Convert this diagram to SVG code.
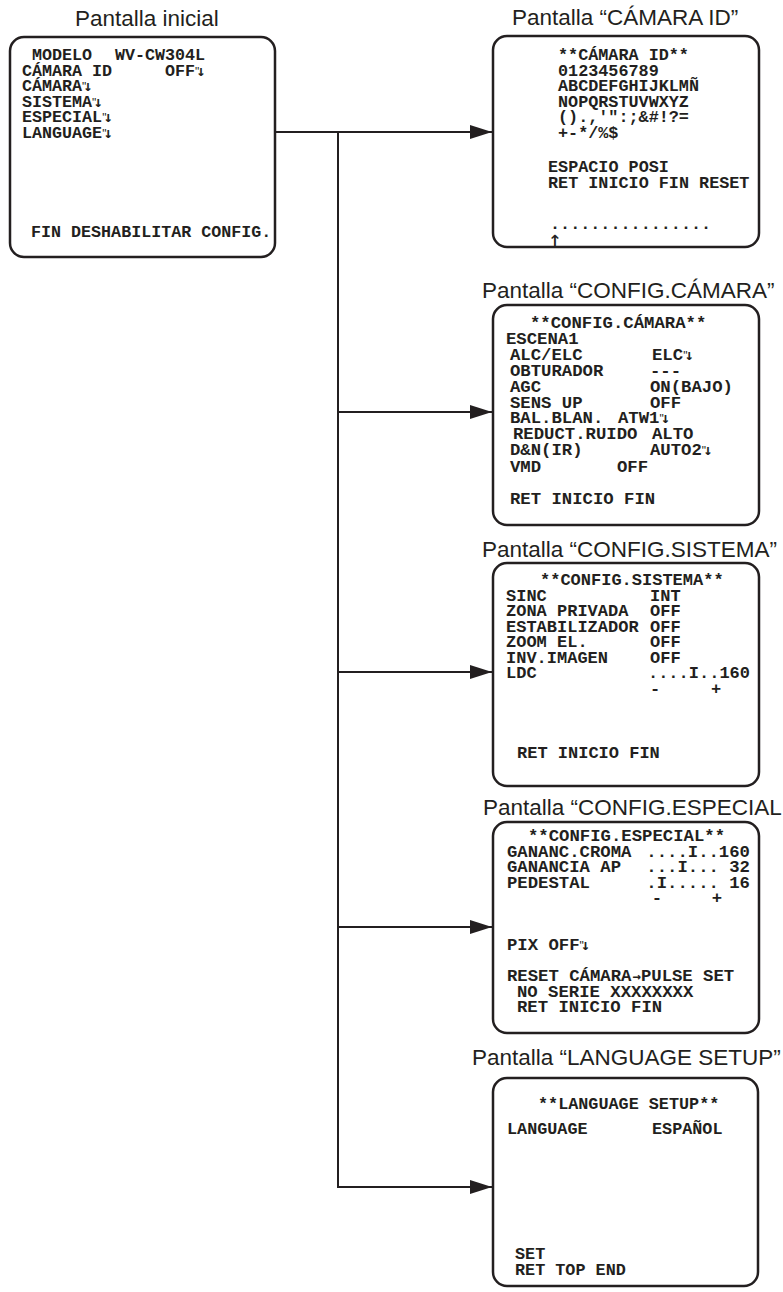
<svg xmlns="http://www.w3.org/2000/svg" width="783" height="1292" viewBox="0 0 783 1292">
<defs>
<style>
.title{font-family:"Liberation Sans",Arial,Helvetica,sans-serif;font-size:22.5px;fill:#231f20}
.m{font-family:"Liberation Mono","Courier New",monospace;font-weight:bold;font-size:17px;fill:#231f20}
.box{fill:#fff;stroke:#231f20;stroke-width:2.5}
.conn{fill:none;stroke:#231f20;stroke-width:2}
.q{font-family:"Liberation Sans",Arial,sans-serif;font-weight:normal;font-size:12px}
.a{font-family:"DejaVu Sans Mono",monospace;font-weight:bold;font-size:15px}
.ar{font-family:"DejaVu Sans Mono",monospace;font-weight:bold;font-size:14px}
.up{font-family:"DejaVu Sans Mono",monospace;font-size:23px;fill:#231f20}
#pantalla-inicial .m{font-size:16.7px}
#pantalla-camara-id .m{font-size:16.8px}
#pantalla-config-camara .m{font-size:17.3px}
#pantalla-config-especial .m{font-size:17.3px}
#pantalla-language .m{font-size:16.8px}
</style>
<marker id="ah" markerUnits="userSpaceOnUse" viewBox="0 0 22 14" refX="22" refY="7" markerWidth="22" markerHeight="14" orient="auto"><path d="M0,0 L22,7 L0,14 Z" fill="#231f20"/></marker>
</defs>
<rect width="783" height="1292" fill="#fff"/>

<g id="pantalla-inicial">
<text class="title" x="75" y="26">Pantalla inicial</text>
<rect class="box" x="10" y="37" width="265" height="220" rx="14"/>
<text class="m" x="32" y="60">MODELO</text>
<text class="m" x="115" y="60">WV-CW304L</text>
<text class="m" x="22" y="75.5">CÁMARA ID</text>
<text class="m" x="165" y="75.5">OFF<tspan class="q">"</tspan><tspan class="a" dx="-3">↓</tspan></text>
<text class="m" x="22" y="91">CÁMARA<tspan class="q">"</tspan><tspan class="a" dx="-3">↓</tspan></text>
<text class="m" x="22" y="106.5">SISTEMA<tspan class="q">"</tspan><tspan class="a" dx="-3">↓</tspan></text>
<text class="m" x="22" y="122">ESPECIAL<tspan class="q">"</tspan><tspan class="a" dx="-3">↓</tspan></text>
<text class="m" x="22" y="137.5">LANGUAGE<tspan class="q">"</tspan><tspan class="a" dx="-3">↓</tspan></text>
<text class="m" x="31" y="237">FIN DESHABILITAR CONFIG.</text>
</g>

<g id="pantalla-camara-id">
<text class="title" x="512" y="25">Pantalla “CÁMARA ID”</text>
<rect class="box" x="493" y="36" width="266" height="211" rx="14"/>
<text class="m" x="558" y="60">**CÁMARA ID**</text>
<text class="m" x="558" y="75.5">0123456789</text>
<text class="m" x="558" y="91">ABCDEFGHIJKLMÑ</text>
<text class="m" x="558" y="106.5">NOPQRSTUVWXYZ</text>
<text class="m" x="558" y="122">().,'&quot;:;&amp;#!?=</text>
<text class="m" x="558" y="137.5">+-*/%$</text>
<text class="m" x="548" y="172">ESPACIO POSI</text>
<text class="m" x="548" y="187.5">RET INICIO FIN RESET</text>
<text class="m" x="550" y="229">................</text>
<text class="up" x="555" y="247" text-anchor="middle">↑</text>
</g>

<g id="pantalla-config-camara">
<text class="title" x="482" y="298">Pantalla “CONFIG.CÁMARA”</text>
<rect class="box" x="493" y="305" width="266" height="220" rx="14"/>
<text class="m" x="530" y="328">**CONFIG.CÁMARA**</text>
<text class="m" x="506" y="344">ESCENA1</text>
<text class="m" x="510" y="360">ALC/ELC</text>
<text class="m" x="652" y="360">ELC<tspan class="q">"</tspan><tspan class="a" dx="-3">↓</tspan></text>
<text class="m" x="510" y="376">OBTURADOR</text>
<text class="m" x="650" y="376">---</text>
<text class="m" x="510" y="392">AGC</text>
<text class="m" x="650" y="392">ON(BAJO)</text>
<text class="m" x="510" y="407.5">SENS UP</text>
<text class="m" x="650" y="407.5">OFF</text>
<text class="m" x="510" y="423">BAL.BLAN.</text>
<text class="m" x="618" y="423">ATW1<tspan class="q">"</tspan><tspan class="a" dx="-3">↓</tspan></text>
<text class="m" x="513" y="439">REDUCT.RUIDO</text>
<text class="m" x="652" y="439">ALTO</text>
<text class="m" x="510" y="455">D&amp;N(IR)</text>
<text class="m" x="650" y="455">AUTO2<tspan class="q">"</tspan><tspan class="a" dx="-3">↓</tspan></text>
<text class="m" x="510" y="472">VMD</text>
<text class="m" x="617" y="472">OFF</text>
<text class="m" x="510" y="504">RET INICIO FIN</text>
</g>

<g id="pantalla-config-sistema">
<text class="title" x="482" y="557">Pantalla “CONFIG.SISTEMA”</text>
<rect class="box" x="493" y="563" width="266" height="223" rx="14"/>
<text class="m" x="540" y="585">**CONFIG.SISTEMA**</text>
<text class="m" x="506" y="600.5">SINC</text>
<text class="m" x="650" y="600.5">INT</text>
<text class="m" x="506" y="616">ZONA PRIVADA</text>
<text class="m" x="650" y="616">OFF</text>
<text class="m" x="506" y="631.5">ESTABILIZADOR</text>
<text class="m" x="650" y="631.5">OFF</text>
<text class="m" x="506" y="647">ZOOM EL.</text>
<text class="m" x="650" y="647">OFF</text>
<text class="m" x="506" y="662.5">INV.IMAGEN</text>
<text class="m" x="650" y="662.5">OFF</text>
<text class="m" x="506" y="678">LDC</text>
<text class="m" x="750" y="678" text-anchor="end">....I..160</text>
<text class="m" x="655" y="694" text-anchor="middle">-</text>
<text class="m" x="716" y="694" text-anchor="middle">+</text>
<text class="m" x="517" y="758">RET INICIO FIN</text>
</g>

<g id="pantalla-config-especial">
<text class="title" x="483" y="815">Pantalla “CONFIG.ESPECIAL</text>
<rect class="box" x="493" y="822" width="266" height="211" rx="14"/>
<text class="m" x="528" y="841">**CONFIG.ESPECIAL**</text>
<text class="m" x="507" y="856.5">GANANC.CROMA</text>
<text class="m" x="750" y="856.5" text-anchor="end">....I..160</text>
<text class="m" x="507" y="872">GANANCIA AP</text>
<text class="m" x="750" y="872" text-anchor="end">...I... 32</text>
<text class="m" x="507" y="887.5">PEDESTAL</text>
<text class="m" x="750" y="887.5" text-anchor="end">.I..... 16</text>
<text class="m" x="657" y="903" text-anchor="middle">-</text>
<text class="m" x="717" y="903" text-anchor="middle">+</text>
<text class="m" x="507" y="950">PIX OFF<tspan class="q">"</tspan><tspan class="a" dx="-3">↓</tspan></text>
<text class="m" x="507" y="981">RESET CÁMARA<tspan class="ar" dx="1">→</tspan>PULSE SET</text>
<text class="m" x="517" y="996.5">NO SERIE XXXXXXXX</text>
<text class="m" x="517" y="1012">RET INICIO FIN</text>
</g>

<g id="pantalla-language">
<text class="title" x="472" y="1065">Pantalla “LANGUAGE SETUP”</text>
<rect class="box" x="493" y="1078" width="265" height="208" rx="14"/>
<text class="m" x="538" y="1109">**LANGUAGE SETUP**</text>
<text class="m" x="507" y="1134">LANGUAGE</text>
<text class="m" x="652" y="1134">ESPAÑOL</text>
<text class="m" x="515" y="1259">SET</text>
<text class="m" x="515" y="1275">RET TOP END</text>
</g>

<g id="connectors">
<path class="conn" d="M276,132 H492" marker-end="url(#ah)"/>
<path class="conn" d="M338,132 V1188"/>
<path class="conn" d="M338,412 H492" marker-end="url(#ah)"/>
<path class="conn" d="M338,672 H492" marker-end="url(#ah)"/>
<path class="conn" d="M338,927 H492" marker-end="url(#ah)"/>
<path class="conn" d="M337,1187 H492" marker-end="url(#ah)"/>
</g>
</svg>
